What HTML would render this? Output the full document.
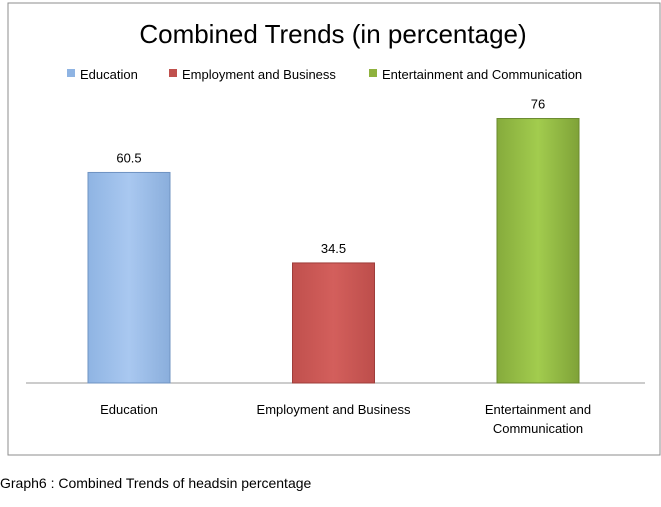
<!DOCTYPE html>
<html><head><meta charset="utf-8"><style>
body{margin:0;background:#fff;width:661px;height:502px;overflow:hidden;font-family:"Liberation Sans",sans-serif}
</style></head><body>
<svg width="661" height="502" xmlns="http://www.w3.org/2000/svg" font-family="Liberation Sans, sans-serif">
<defs>
<linearGradient id="gb" x1="0" x2="1"><stop offset="0" stop-color="#8fb4e3"/><stop offset="0.5" stop-color="#a9c8f0"/><stop offset="1" stop-color="#8aaedc"/></linearGradient>
<linearGradient id="gr" x1="0" x2="1"><stop offset="0" stop-color="#c0504d"/><stop offset="0.5" stop-color="#d35f5c"/><stop offset="1" stop-color="#bd4e4b"/></linearGradient>
<linearGradient id="gg" x1="0" x2="1"><stop offset="0" stop-color="#86ab3c"/><stop offset="0.5" stop-color="#a2cc4e"/><stop offset="1" stop-color="#7fa238"/></linearGradient>
</defs>
<rect x="8" y="3" width="652" height="452" fill="#fff" stroke="#8c8c8c"/>
<text x="333" y="43" font-size="26" text-anchor="middle" fill="#000">Combined Trends (in percentage)</text>
<g id="legend" font-size="13" fill="#000"></g>
<line x1="26" y1="383" x2="645" y2="383" stroke="#999"/>
<g id="bars"></g>
<text x="0" y="488" font-size="14" fill="#000">Graph6 : Combined Trends of headsin percentage</text>
</svg>
<script>
const categories=["Education","Employment and Business","Entertainment and Communication"];
const values=[60.5,34.5,76];
const labels=[["Education"],["Employment and Business"],["Entertainment and","Communication"]];
const fills=["url(#gb)","url(#gr)","url(#gg)"];
const strokes=["#6f93c2","#9e3d3a","#6a8a2e"];
const legendCols=["#8fb4e3","#c0504d","#8fb23e"];
const NS="http://www.w3.org/2000/svg";
const baseY=383, pxPer=3.48, x0=26.75, band=204.5, bw=82;
const xs=i=>x0+band*i+(band-bw)/2;
const ys=v=>baseY-v*pxPer;
const bars=document.getElementById('bars');
function mk(t,a,p){const e=document.createElementNS(NS,t);for(const k in a)e.setAttribute(k,a[k]);p.appendChild(e);return e;}
values.forEach((v,i)=>{
  const r=mk('rect',{x:xs(i),y:ys(v),width:bw,height:baseY-ys(v),fill:fills[i],stroke:strokes[i]},bars);
  
  
  const t=mk('text',{x:xs(i)+bw/2,y:ys(v)-10,'font-size':13,'text-anchor':'middle',fill:'#000'},bars);
  t.textContent=String(v);
  
  
  labels[i].forEach((l,j)=>{
    const c=mk('text',{x:xs(i)+bw/2,y:414+j*19,'font-size':13,'text-anchor':'middle',fill:'#000'},bars);
    c.textContent=l;
    
    
  });
});
const lg=document.getElementById('legend');
const lx=[67,169,369];
categories.forEach((c,i)=>{
  const s=mk('rect',{x:lx[i],y:69,width:8,height:8,fill:legendCols[i]},lg);
  
  
  const t=mk('text',{x:lx[i]+13,y:79},lg);
  t.textContent=c;
  
  
});
</script>
</body></html>
